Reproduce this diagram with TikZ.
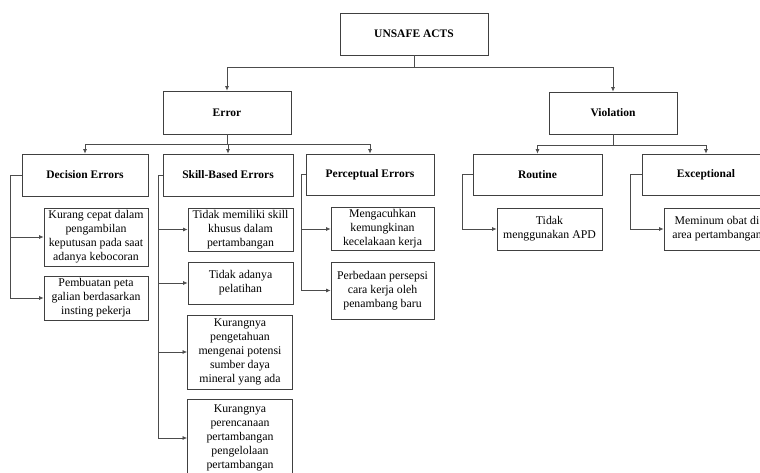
\documentclass[tikz,border=0pt]{standalone}
\usepackage{fontspec}
\setmainfont{Liberation Serif}
\usetikzlibrary{positioning, calc, arrows.meta}

\begin{document}
\begin{tikzpicture}[
          x=1pt, y=-1pt,
          box/.style={draw=black!75, line width=0.8pt, align=center, inner sep=2pt,
            font=\fontsize{11.8}{14}\selectfont},
          head/.style={box, font=\fontsize{11.5}{14}\selectfont\bfseries, minimum height=42pt},
          link/.style={draw=black!70, line width=0.7pt, -{Latex[length=4.5pt,width=4pt]}}
        ]
          \useasboundingbox (0,0) rectangle (760,472);

          \node[head, minimum width=148pt] (unsafe) at (414,34) {UNSAFE ACTS};
          \node[head, minimum width=128pt, minimum height=43pt] (error) at (227,112.5) {Error};
          \node[head, minimum width=128pt] (violation) at (613,113) {Violation};

          \node[head, minimum width=126pt] (decision) at (85,175) {Decision Errors};
          \node[head, minimum width=130pt] (skill) at (228,175) {Skill-Based Errors};
          \node[head, minimum width=128pt, minimum height=41pt] (perceptual) at (370,174.5) {Perceptual Errors};
          \node[head, minimum width=129pt, minimum height=41pt] (routine) at (537.5,174.5) {Routine};
          \node[head, minimum width=128pt, minimum height=41pt] (exceptional) at (706,174.5) {Exceptional};

          \node[box, minimum width=104pt, minimum height=58pt] (dec1) at (96,237)
            {Kurang cepat dalam\\pengambilan\\keputusan pada saat\\adanya kebocoran};
          \node[box, minimum width=104pt, minimum height=44pt] (dec2) at (96,298)
            {Pembuatan peta\\galian berdasarkan\\insting pekerja};

          \node[box, minimum width=105pt, minimum height=43pt] (skl1) at (240.5,229.5)
            {Tidak memiliki skill\\khusus dalam\\pertambangan};
          \node[box, minimum width=105pt, minimum height=42pt] (skl2) at (240.5,283)
            {Tidak adanya\\pelatihan};
          \node[box, minimum width=105pt, minimum height=74pt] (skl3) at (240,352)
            {Kurangnya\\pengetahuan\\mengenai potensi\\sumber daya\\mineral yang ada};
          \node[box, minimum width=105pt, minimum height=78pt] (skl4) at (240,438)
            {Kurangnya\\perencanaan\\pertambangan\\pengelolaan\\pertambangan};

          \node[box, minimum width=103pt, minimum height=42pt] (per1) at (382.5,229)
            {Mengacuhkan\\kemungkinan\\kecelakaan kerja};
          \node[box, minimum width=103pt, minimum height=57pt] (per2) at (382.5,290.5)
            {Perbedaan persepsi\\cara kerja oleh\\penambang baru};

          \node[box, minimum width=105pt, minimum height=42pt] (rou1) at (549.5,229)
            {Tidak\\menggunakan APD};
          \node[box, minimum width=106pt, minimum height=42pt] (exc1) at (717,229)
            {Meminum obat di\\area pertambangan};

          \draw[link] (unsafe.south) -- ++(0,12) -| (error.north);
          \draw[link] (unsafe.south) -- ++(0,12) -| (violation.north);

          \draw[link] (error.south) -- ++(0,10) -| (decision.north);
          \draw[link] (error.south) -- ++(0,10) -| (skill.north);
          \draw[link] (error.south) -- ++(0,10) -| (perceptual.north);

          \draw[link] (violation.south) -- ++(0,11) -| (routine.north);
          \draw[link] (violation.south) -- ++(0,11) -| (exceptional.north);

          \draw[link] (decision.west) -- ++(-11,0) |- (dec1.west);
          \draw[link] (decision.west) -- ++(-11,0) |- (dec2.west);

          \draw[link] (skill.west) -- ++(-4,0) |- (skl1.west);
          \draw[link] (skill.west) -- ++(-4,0) |- (skl2.west);
          \draw[link] (skill.west) -- ++(-4,0) |- (skl3.west);
          \draw[link] (skill.west) -- ++(-4,0) |- (skl4.west);

          \draw[link] (perceptual.west) -- ++(-4,0) |- (per1.west);
          \draw[link] (perceptual.west) -- ++(-4,0) |- (per2.west);

          \draw[link] (routine.west) -- ++(-10,0) |- (rou1.west);
          \draw[link] (exceptional.west) -- ++(-11,0) |- (exc1.west);
        \end{tikzpicture}
\end{document}
